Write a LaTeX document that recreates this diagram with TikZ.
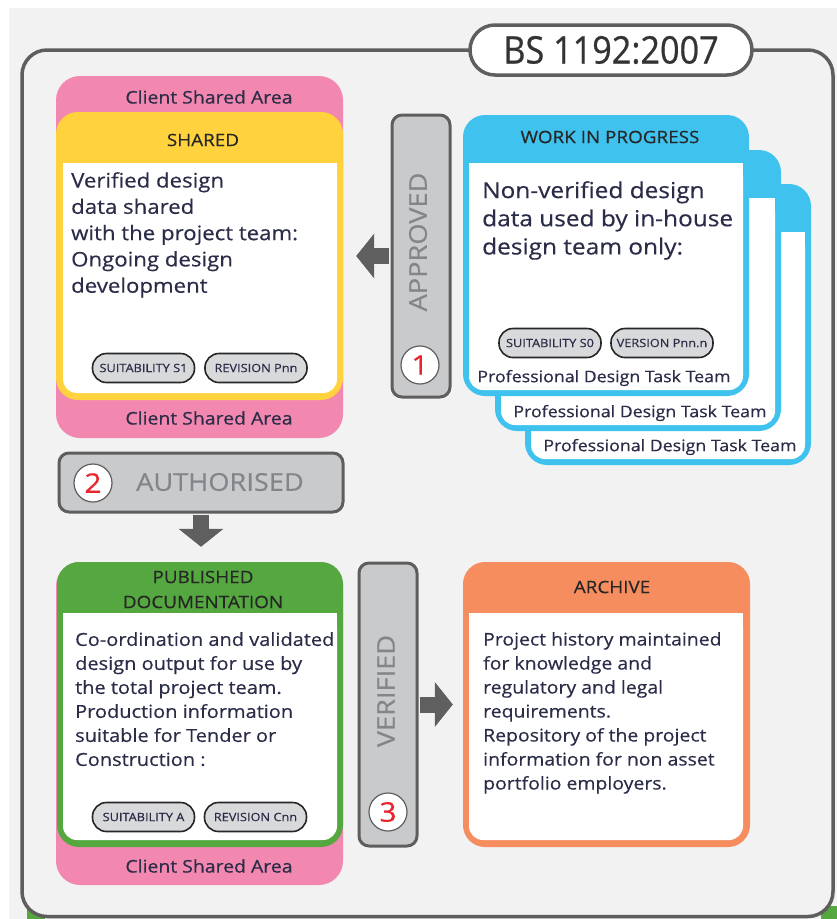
\documentclass[tikz,border=0pt]{standalone}
\usepackage{fontspec}
\setmainfont{Open Sans}[FakeStretch=1.11, FakeBold=0.4]
\newfontfamily\narrowfont[FakeStretch=0.9, FakeBold=0.6]{Open Sans}
\usetikzlibrary{arrows.meta}
\usetikzlibrary{positioning}
\definecolor{bggray}{HTML}{F2F2F2}
\definecolor{framegray}{HTML}{5E5E5E}
\definecolor{barfill}{HTML}{C9CACC}
\definecolor{bartext}{HTML}{82858A}
\definecolor{arrowgray}{HTML}{5F5F5F}
\definecolor{cspink}{HTML}{F288AF}
\definecolor{shyellow}{HTML}{FFD23E}
\definecolor{wipblue}{HTML}{3FC3EE}
\definecolor{pubgreen}{HTML}{55A83F}
\definecolor{arcorange}{HTML}{F58D5E}
\definecolor{inkblue}{HTML}{2A2C48}
\definecolor{numred}{HTML}{E8242C}
\definecolor{pillgray}{HTML}{D8D9DB}
\tikzset{panel/.style = {rounded corners=22pt, inner sep=0pt}}
\tikzset{stage/.style = {draw=framegray, line width=3pt, fill=barfill, rounded corners=10pt, inner sep=0pt}}
\tikzset{stagetext/.style = {text=bartext, font=\fontsize{24.5}{25}\selectfont}}
\tikzset{numdot/.style = {circle, draw=framegray, line width=1.2pt, fill=white, minimum size=38pt, inner sep=0pt, text=numred, font=\fontsize{27}{27}\selectfont}}
\tikzset{pill/.style = {draw=black!85, line width=1.6pt, fill=pillgray, rounded corners=14pt, minimum width=102pt, minimum height=29pt, inner sep=0pt, text=inkblue, font=\fontsize{11.5}{11.5}\selectfont}}
\tikzset{head/.style = {text=black!85, inner sep=0pt, align=center, font=\fontsize{17}{25}\selectfont}}
\tikzset{body/.style = {text=inkblue, inner sep=0pt, align=left, anchor=north west}}
\tikzset{cstext/.style = {text=inkblue, inner sep=0pt, font=\fontsize{17.5}{17.5}\selectfont}}
\tikzset{fatarrow/.style = {draw=arrowgray, line width=16pt, -{Triangle[width=44pt, length=18pt]}}}

\begin{document}
\begin{tikzpicture}[x=1pt, y=-1pt]
  \useasboundingbox (0,0) rectangle (837,919);
  \fill[white] (0,0) rectangle (837,919);
  \fill[bggray] (9,8) rectangle (837,919);
  \fill[pubgreen] (27,906) rectangle (45,919);
  \fill[pubgreen] (821,906) rectangle (837,919);
  \draw[framegray, line width=3.5pt, fill=bggray, rounded corners=25pt] (22,50) rectangle (833,916.5);
  \node[draw=framegray, line width=3.5pt, fill=white, rounded corners=25pt, minimum width=282pt, minimum height=50pt, inner sep=0pt, text=black!80, font=\narrowfont\fontsize{38}{38}\selectfont] (title) at (611,50) {BS 1192:2007};

  % shared
  \fill[cspink, rounded corners=24pt] (56,76) rectangle (343,438);
  \node[panel, fill=shyellow, minimum width=287pt, minimum height=288pt] (shared) at (199.5,256) {};
  \fill[white, rounded corners=14pt] (63,163) rectangle (337,393);
  \fill[white] (63,163) rectangle (337,185);
  \node[head] at (203,140) {SHARED};
  \node[body, font=\fontsize{20}{26.3}\selectfont] at (71,172) {Verified design\\data shared\\with the project team:\\Ongoing design\\development};
  \node[pill] (sharedsuit) at (143.5,368) {SUITABILITY S1};
  \node[pill] (sharedrev) at (256,368) {REVISION Pnn};
  \node[cstext] (csatop) at (209,97) {Client Shared Area};
  \node[cstext] (csamid) at (209,418) {Client Shared Area};

  % work in progress
  \foreach \dx/\dy in {62/69, 32/35} {
    \fill[wipblue, rounded corners=22pt] (463+\dx,115+\dy) rectangle (749+\dx,396+\dy);
    \fill[white, rounded corners=14pt] (469+\dx,163+\dy) rectangle (743+\dx,390+\dy);
    \fill[white] (469+\dx,163+\dy) rectangle (743+\dx,185+\dy);
    \node[cstext, font=\fontsize{16}{16}\selectfont] at (608+\dx,378+\dy) {Professional Design Task Team};
  }
  \node[panel, fill=wipblue, minimum width=286pt, minimum height=281pt] (wip) at (606,255.5) {};
  \fill[white, rounded corners=14pt] (469,163) rectangle (743,390);
  \fill[white] (469,163) rectangle (743,185);
  \node[head] at (610,137) {WORK IN PROGRESS};
  \node[body, font=\fontsize{22}{28.2}\selectfont] at (482,181) {Non-verified design\\data used by in-house\\design team only:};
  \node[pill] (wipsuit) at (550,343) {SUITABILITY S0};
  \node[pill] (wipver) at (662,343) {VERSION Pnn.n};
  \node[cstext, font=\fontsize{16}{16}\selectfont] (wipteam) at (604,378) {Professional Design Task Team};

  % approved
  \node[stage, minimum width=58pt, minimum height=282pt] (approved) at (421,256) {};
  \node[stagetext, rotate=90] at (418,242) {APPROVED};
  \node[numdot] (one) at (420,365) {1};
  \draw[fatarrow, shorten <=1.5pt, shorten >=13pt] (approved.west) -- (shared.east);

  % published
  \fill[cspink, rounded corners=24pt] (56,562) rectangle (343,885);
  \node[panel, fill=pubgreen, minimum width=286pt, minimum height=285pt] (published) at (200,704.5) {};
  \fill[white, rounded corners=14pt] (63,613) rectangle (337,840);
  \fill[white] (63,613) rectangle (337,635);
  \node[head] at (203,589.5) {PUBLISHED\\DOCUMENTATION};
  \node[body, font=\fontsize{18}{24}\selectfont] at (75,632) {Co-ordination and validated\\design output for use by\\the total project team.\\Production information\\suitable for Tender or\\Construction :};
  \node[pill] (pubsuit) at (143.5,817) {SUITABILITY A};
  \node[pill] (pubrev) at (255.5,817) {REVISION Cnn};
  \node[cstext] (csabot) at (209,866) {Client Shared Area};

  % authorised
  \node[stage, minimum width=284pt, minimum height=59pt] (authorised) at (201,482.5) {};
  \node[stagetext] at (220,482) {AUTHORISED};
  \node[numdot] (two) at (93,483) {2};
  \draw[fatarrow, shorten <=1.5pt, shorten >=15pt] (authorised.south) -- (authorised.south |- published.north);

  % archive
  \node[panel, fill=arcorange, minimum width=287pt, minimum height=285pt] (archive) at (606.5,704.5) {};
  \fill[white, rounded corners=14pt] (469,613) rectangle (743,840);
  \fill[white] (469,613) rectangle (743,635);
  \node[head] at (612,587) {ARCHIVE};
  \node[body, font=\fontsize{17.5}{24}\selectfont] at (483,632) {Project history maintained\\for knowledge and\\regulatory and legal\\requirements.\\Repository of the project\\information for non asset\\portfolio employers.};

  % verified
  \node[stage, minimum width=58pt, minimum height=283pt] (verified) at (388,704.5) {};
  \node[stagetext, rotate=90] at (386,691) {VERIFIED};
  \node[numdot] (three) at (388,812) {3};
  \draw[fatarrow, shorten <=1.5pt, shorten >=10pt] (verified.east) -- (archive.west);
\end{tikzpicture}
\end{document}
